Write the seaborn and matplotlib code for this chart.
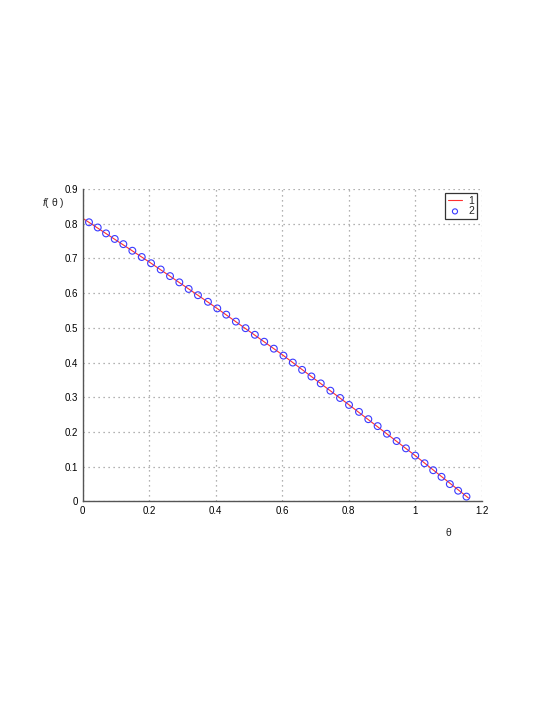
import matplotlib
matplotlib.use('Agg')
import matplotlib.pyplot as plt
import seaborn as sns
import pandas as pd

# points (circles, series "2")
theta = [0.0195, 0.0457, 0.0707, 0.0968, 0.1227, 0.1498, 0.178, 0.206, 0.235, 0.263,
         0.291, 0.319, 0.347, 0.377, 0.405, 0.432, 0.461, 0.490, 0.518, 0.546, 0.575,
         0.604, 0.632, 0.660, 0.688, 0.716, 0.745, 0.774, 0.801, 0.831, 0.859, 0.887,
         0.915, 0.944, 0.972, 1.000, 1.028, 1.054, 1.079, 1.104, 1.129, 1.154]
f_pts = [0.804, 0.789, 0.772, 0.756, 0.741, 0.722, 0.704, 0.686, 0.668, 0.649,
         0.631, 0.612, 0.594, 0.575, 0.556, 0.538, 0.518, 0.499, 0.480, 0.460, 0.440,
         0.420, 0.400, 0.379, 0.360, 0.340, 0.319, 0.298, 0.278, 0.258, 0.237, 0.217,
         0.195, 0.174, 0.153, 0.132, 0.110, 0.090, 0.071, 0.050, 0.031, 0.014]

# red line, series "1"
line_theta = [0.0, 0.2, 0.4, 0.6, 0.8, 1.0, 1.16]
line_f = [0.816, 0.690, 0.559, 0.423, 0.279, 0.132, 0.010]

xticks = [0, 0.2, 0.4, 0.6, 0.8, 1.0, 1.2]
xticklabels = ['0', '0.2', '0.4', '0.6', '0.8', '1', '1.2']
yticks = [0, 0.1, 0.2, 0.3, 0.4, 0.5, 0.6, 0.7, 0.8, 0.9]
yticklabels = ['0', '0.1', '0.2', '0.3', '0.4', '0.5', '0.6', '0.7', '0.8', '0.9']

sns.set_style('white')
plt.rcParams['font.family'] = ['Liberation Sans', 'DejaVu Sans']
plt.rcParams['mathtext.fontset'] = 'custom'
plt.rcParams['mathtext.it'] = 'Liberation Sans:italic'
plt.rcParams['mathtext.rm'] = 'Liberation Sans'

fig = plt.figure(figsize=(5.45, 7.05), dpi=100)
ax = fig.add_axes([0.1514, 0.2887, 0.7326, 0.4433])

df_line = pd.DataFrame({'theta': line_theta, 'f': line_f})
df_pts = pd.DataFrame({'theta': theta, 'f': f_pts})

sns.lineplot(data=df_line, x='theta', y='f', ax=ax, color='#ff3030', lw=0.8, label='1')
sns.scatterplot(data=df_pts, x='theta', y='f', ax=ax, marker='o', s=24,
                facecolors='none', edgecolor='#3a3aff', linewidth=0.8, label='2', zorder=3)

ax.set_xlim(0, 1.2)
ax.set_ylim(0, 0.9)
ax.set_xticks(xticks)
ax.set_xticklabels(xticklabels)
ax.set_yticks(yticks)
ax.set_yticklabels(yticklabels)
ax.tick_params(direction='in', length=4, width=0.8, labelsize=7, pad=3, colors='#333333')
ax.tick_params(labelcolor='black')

ax.grid(True, linestyle=(0, (1, 3)), color='#999999', lw=0.9)
for s in ['top', 'right']:
    ax.spines[s].set_visible(False)
for s in ['left', 'bottom']:
    ax.spines[s].set_color('#555555')
    ax.spines[s].set_linewidth(1.0)

ax.set_xlabel('θ', fontsize=7.5)
ax.xaxis.set_label_coords(0.917, -0.086)
ax.set_ylabel(r'$\it{f}$( θ )', fontsize=7.5, rotation=0, ha='center', va='center')
ax.yaxis.set_label_coords(-0.073, 0.956)

leg = ax.legend(loc='upper right', bbox_to_anchor=(0.988, 0.987), fontsize=7.5,
                frameon=True, fancybox=False, handlelength=1.4, handletextpad=0.6,
                borderpad=0.25, labelspacing=0.05, borderaxespad=0, markerscale=0.75)
leg.get_frame().set_edgecolor('black')
leg.get_frame().set_linewidth(0.9)

fig.savefig('out.png', dpi=100)
